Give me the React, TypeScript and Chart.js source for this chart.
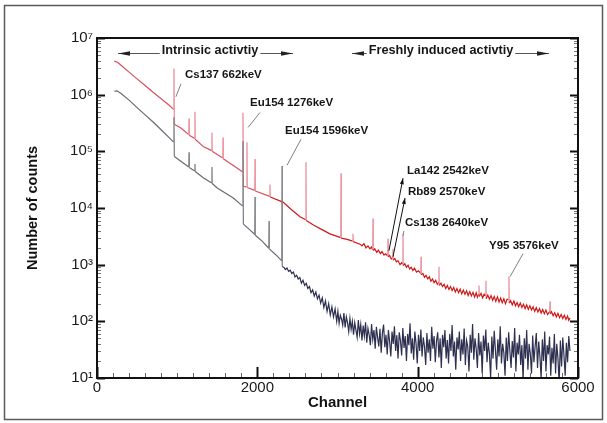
import React, { useEffect, useRef } from "react";
import { Chart, registerables } from "chart.js";

Chart.register(...registerables);

// ---------- data ----------
const xTickValues = [0, 2000, 4000, 6000];
const yDecades = [1, 2, 3, 4, 5, 6, 7];

// "freshly induced" spectrum (red) – low-channel part with peaks
const redChannels = [
  215, 260, 300, 400, 500, 600, 700, 800, 900, 955, 960, 965, 1050, 1145, 1148, 1151, 1219, 1222, 1225, 1330,
  1431, 1434, 1437, 1500, 1569, 1572, 1575, 1700, 1818, 1821, 1826, 1868, 1871, 1874, 1968, 1971, 1974, 2155,
  2158, 2161, 2320, 2420, 2532, 2604, 2607, 2610, 2700, 2800, 2906, 3041, 3044, 3047, 3120, 3190, 3193, 3196,
];
const redCounts = [
  3.9e6, 3.7e6, 3.3e6, 2.5e6, 1.9e6, 1.45e6, 1.1e6, 8.5e5, 6.5e5, 5.5e5, 2.9e6, 3.0e5, 2.55e5, 1.97e5, 3.8e5, 1.93e5, 1.68e5, 5.0e5, 1.63e5, 1.2e5,
  1.03e5, 2.15e5, 1.0e5, 8.8e4, 7.6e4, 1.76e5, 7.4e4, 5.6e4, 4.3e4, 4.8e5, 2.4e4, 2.35e4, 1.44e5, 2.3e4, 2.05e4, 7.3e4, 2.0e4, 1.6e4,
  2.6e4, 1.56e4, 1.27e4, 9.5e3, 7.0e3, 6.2e3, 6.4e4, 6.0e3, 5.0e3, 4.2e3, 3.5e3, 3.0e3, 4.1e4, 2.95e3, 2.8e3, 2.6e3, 3.5e3, 2.55e3,
];
// red – noisy high-channel part
const redTailChannels = [
  3281, 3305, 3330, 3355, 3380, 3405, 3425, 3440, 3443, 3446, 3465, 3490, 3510, 3535, 3555, 3580, 3600, 3627, 3630, 3633,
  3650, 3670, 3689, 3692, 3695, 3715, 3735, 3755, 3780, 3800, 3814, 3817, 3820, 3840, 3860, 3880, 3900, 3920, 3940, 3960,
  3985, 4010, 4039, 4042, 4045, 4065, 4085, 4105, 4125, 4145, 4165, 4185, 4205, 4225, 4245, 4263, 4266, 4269, 4290, 4310,
  4330, 4350, 4370, 4390, 4410, 4430, 4450, 4470, 4490, 4510, 4530, 4550, 4570, 4590, 4610, 4630, 4650, 4670, 4690, 4710,
  4730, 4745, 4762, 4765, 4768, 4790, 4810, 4830, 4849, 4852, 4855, 4875, 4895, 4915, 4935, 4955, 4975, 4995, 5015, 5035,
  5055, 5075, 5095, 5115, 5136, 5139, 5142, 5160, 5180, 5200, 5220, 5240, 5260, 5280, 5300, 5320, 5340, 5360, 5380, 5400,
  5420, 5440, 5460, 5480, 5500, 5520, 5540, 5560, 5580, 5600, 5620, 5648, 5651, 5654, 5670, 5690, 5710, 5730, 5750, 5770,
  5790, 5810, 5830, 5850, 5870, 5885, 5900,
];
const redTailCounts = [
  2300, 2150, 2350, 1980, 2150, 1900, 2050, 1820, 6500, 1780, 1900, 1650, 1800, 1560, 1700, 1480, 1560, 1420, 2860, 1380,
  1450, 1260, 1350, 1900, 1200, 1280, 1120, 1180, 1000, 1080, 1020, 3500, 960, 1040, 900, 980, 840, 900, 790, 870,
  740, 780, 700, 1380, 660, 700, 600, 650, 560, 610, 510, 560, 480, 530, 450, 490, 920, 430, 470, 410,
  450, 380, 430, 365, 410, 350, 395, 330, 380, 320, 370, 305, 355, 300, 345, 285, 335, 280, 325, 270,
  320, 265, 305, 430, 275, 310, 260, 300, 285, 520, 250, 290, 245, 285, 235, 275, 225, 270, 220, 258,
  212, 250, 205, 245, 240, 620, 210, 232, 195, 228, 188, 215, 182, 210, 175, 200, 168, 195, 162, 188,
  158, 180, 150, 174, 146, 168, 140, 162, 136, 158, 132, 150, 225, 135, 148, 125, 142, 120, 138, 116,
  132, 112, 128, 108, 124, 104, 115,
];
const redPeakChannels = [960, 1148, 1222, 1434, 1572, 1821, 1871, 1971, 2158, 2607, 3044, 3193, 3443, 3630, 3692, 3817, 4042, 4266, 4765, 4852, 5139, 5651];

// "intrinsic" spectrum (black) – low-channel part with peaks
const blackChannels = [
  215, 250, 300, 400, 500, 600, 700, 800, 900, 955, 960, 965, 1050, 1145, 1148, 1151, 1219, 1222, 1225, 1330,
  1431, 1434, 1437, 1500, 1700, 1818, 1821, 1826, 1900, 1968, 1971, 1974, 2060, 2143, 2146, 2149, 2230, 2305,
  2308, 2311,
];
const blackCounts = [
  1.15e6, 1.17e6, 1.05e6, 8.0e5, 5.9e5, 4.4e5, 3.3e5, 2.4e5, 1.75e5, 1.45e5, 4.0e5, 8.1e4, 6.6e4, 5.3e4, 9.6e4, 5.2e4, 4.5e4, 6.0e4, 4.4e4, 3.4e4,
  2.75e4, 5.3e4, 2.7e4, 2.25e4, 1.5e4, 1.08e4, 1.5e5, 5.2e3, 4.2e3, 3.4e3, 1.56e4, 3.3e3, 2.6e3, 1.95e3, 5.9e3, 1.9e3, 1.5e3, 1.17e3,
  5.5e4, 920,
];
// black – noisy tail
const blackTailChannels = [
  2330, 2350, 2370, 2390, 2410, 2430, 2450, 2470, 2490, 2510, 2530, 2550, 2570, 2590, 2610, 2630, 2650, 2670, 2690, 2710,
  2730, 2750, 2770, 2790, 2810, 2830, 2850, 2870, 2890, 2910, 2930, 2950, 2970, 2990,
  3005, 3020, 3035, 3050, 3065, 3080, 3095, 3110, 3125, 3140, 3155, 3170, 3185, 3200, 3215, 3230, 3245, 3260, 3275, 3290,
  3305, 3320, 3335, 3350, 3365, 3380, 3395, 3410, 3425, 3440, 3455, 3470, 3485, 3500, 3515, 3530, 3545, 3560, 3575, 3590,
  3605, 3620, 3635, 3650, 3665, 3680, 3695, 3710, 3725, 3740, 3755, 3770, 3785, 3800, 3815, 3830, 3845, 3860, 3875, 3890,
  3905, 3920, 3935, 3950, 3965, 3980, 3995, 4010, 4025, 4040, 4055, 4070, 4085, 4100, 4115, 4130, 4145, 4160, 4175, 4190,
  4205, 4220, 4235, 4250, 4265, 4280, 4295, 4310, 4325, 4340, 4355, 4370, 4385, 4400, 4415, 4430, 4445, 4460, 4475, 4490,
  4505, 4520, 4535, 4550, 4565, 4580, 4595, 4610, 4625, 4640, 4655, 4670, 4685, 4700, 4715, 4730, 4745, 4760, 4775, 4790,
  4805, 4820, 4835, 4850, 4865, 4880, 4895, 4910, 4925, 4940, 4955, 4970, 4985, 5000, 5015, 5030, 5045, 5060, 5075, 5090,
  5105, 5120, 5135, 5150, 5165, 5180, 5195, 5210, 5225, 5240, 5255, 5270, 5285, 5300, 5315, 5330, 5345, 5360, 5375, 5390,
  5405, 5420, 5435, 5450, 5465, 5480, 5495, 5510, 5525, 5540, 5555, 5570, 5585, 5600, 5615, 5630, 5645, 5660, 5675, 5690,
  5705, 5720, 5735, 5750, 5765, 5780, 5795, 5810, 5825, 5840, 5855, 5870, 5885, 5900,
];
const blackTailCounts = [
  900, 820, 870, 760, 800, 700, 740, 610, 650, 560, 590, 470, 530, 430, 470, 380, 410, 320, 360, 280,
  330, 250, 290, 210, 260, 175, 230, 150, 205, 130, 180, 120, 165, 100,
  150, 92, 128, 110, 85, 140, 78, 120, 95, 66, 112, 72, 100, 58, 95, 70, 52, 105, 60, 88,
  46, 84, 55, 96, 42, 75, 58, 38, 90, 48, 70, 33, 80, 52, 36, 74, 28, 62, 88, 35,
  58, 26, 70, 44, 24, 66, 40, 82, 30, 57, 22, 64, 46, 25, 76, 34, 55, 20, 60, 38,
  92, 27, 50, 21, 66, 40, 18, 58, 30, 72, 24, 52, 36, 17, 62, 28, 48, 20, 80, 33,
  55, 19, 45, 64, 23, 50, 15, 58, 35, 70, 22, 47, 18, 60, 30, 86, 24, 44, 14, 52,
  32, 66, 20, 48, 26, 75, 17, 46, 36, 13, 58, 28, 90, 21, 50, 33, 15, 62, 25, 44,
  12, 56, 30, 72, 19, 42, 27, 10, 54, 22, 68, 31, 14, 48, 24, 82, 18, 40, 28, 11,
  52, 20, 64, 30, 15, 45, 23, 76, 13, 42, 26, 58, 17, 38, 9, 50, 22, 70, 14, 40,
  27, 12, 56, 19, 36, 62, 15, 44, 24, 10, 48, 20, 66, 13, 38, 26, 54, 11, 34, 18,
  60, 12, 40, 22, 8, 46, 16, 52, 25, 11, 42, 19, 55, 30,
];
const blackPeakChannels = [960, 1148, 1222, 1434, 1821, 1971, 2146, 2308];

// annotation texts with anchor (channel, count)
const peakLabels = ["Cs137 662keV", "Eu154 1276keV", "Eu154 1596keV", "La142 2542keV", "Rb89 2570keV", "Cs138 2640keV", "Y95 3576keV"];
const peakLabelChannels = [1098, 1909, 2345, 3867, 3879, 3842, 4890];
const peakLabelCounts = [2.24e6, 7.2e5, 2.33e5, 4.46e4, 1.91e4, 5.46e3, 2150];
// pointer lines: [channel1, count1, channel2, count2]
const pointerLines = [
  [1048, 1.56e6, 985, 9.2e5],
  [2033, 4.83e5, 1884, 2.64e5],
  [2545, 1.63e5, 2370, 5.68e4],
  [3829, 3950, 3817, 3230],
  [5314, 1560, 5152, 615],
];
const arrowLines = [
  [3642, 1762, 3817, 3.36e4],
  [3692, 1380, 3842, 1.5e4],
];
const regionLabels = ["Intrinsic activtiy", "Freshly induced activtiy"];
const regionCenters = [1410, 4291];
const regionStarts = [262, 3181];
const regionEnds = [2445, 5638];
const regionCount = 5.46e6;

const FONT = '"Liberation Sans", Arial, Helvetica, sans-serif';
const SUP = ["⁰", "¹", "²", "³", "⁴", "⁵", "⁶", "⁷", "⁸", "⁹"];
const minorStep = 200;

const redPeakSet = new Set(redPeakChannels);
const blackPeakSet = new Set(blackPeakChannels);

function arrowHead(ctx: CanvasRenderingContext2D, x1: number, y1: number, x2: number, y2: number, len: number, half: number) {
  const ang = Math.atan2(y2 - y1, x2 - x1);
  ctx.beginPath();
  ctx.moveTo(x2, y2);
  ctx.lineTo(x2 - len * Math.cos(ang) + half * Math.sin(ang), y2 - len * Math.sin(ang) - half * Math.cos(ang));
  ctx.lineTo(x2 - len * Math.cos(ang) - half * Math.sin(ang), y2 - len * Math.sin(ang) + half * Math.cos(ang));
  ctx.closePath();
  ctx.fill();
}

const extrasPlugin = {
  id: "extras",
  beforeDraw(chart: any) {
    const { ctx, width, height } = chart;
    ctx.save();
    ctx.fillStyle = "#ffffff";
    ctx.fillRect(0, 0, width, height);
    ctx.strokeStyle = "#5a5a5a";
    ctx.lineWidth = 1.5;
    ctx.strokeRect(4.5, 5.5, 598, 414);
    ctx.restore();
  },
  afterDatasetsDraw(chart: any) {
    const { ctx, chartArea: a, scales } = chart;
    const xs = scales.x;
    const ys = scales.y;
    ctx.save();
    for (const d of yDecades) {
      for (let m = 1; m <= 9; m++) {
        const v = m * Math.pow(10, d);
        if (v > 1e7 + 1) break;
        const py = Math.round(ys.getPixelForValue(v)) + 0.5;
        const major = m === 1;
        const len = major ? 8 : 4;
        ctx.strokeStyle = major ? "#111" : "#777";
        ctx.lineWidth = major ? 2 : 1;
        ctx.beginPath();
        ctx.moveTo(a.left, py);
        ctx.lineTo(a.left + len, py);
        ctx.moveTo(a.right, py);
        ctx.lineTo(a.right - len, py);
        ctx.stroke();
      }
    }
    for (let c = 0; c <= 6000; c += minorStep) {
      const major = xTickValues.includes(c);
      const px = Math.round(xs.getPixelForValue(c)) + 0.5;
      ctx.strokeStyle = major ? "#111" : "#666";
      ctx.lineWidth = major ? 2 : 1;
      ctx.beginPath();
      ctx.moveTo(px, a.bottom);
      ctx.lineTo(px, a.bottom - (major ? 11 : 5));
      ctx.stroke();
    }
    ctx.strokeStyle = "#111";
    ctx.lineWidth = 2;
    ctx.strokeRect(a.left, a.top, a.right - a.left, a.bottom - a.top);

    ctx.strokeStyle = "#808080";
    ctx.lineWidth = 1;
    for (const p of pointerLines) {
      ctx.beginPath();
      ctx.moveTo(xs.getPixelForValue(p[0]), ys.getPixelForValue(p[1]));
      ctx.lineTo(xs.getPixelForValue(p[2]), ys.getPixelForValue(p[3]));
      ctx.stroke();
    }
    ctx.strokeStyle = "#111";
    ctx.fillStyle = "#111";
    for (const p of arrowLines) {
      const x1 = xs.getPixelForValue(p[0]);
      const y1 = ys.getPixelForValue(p[1]);
      const x2 = xs.getPixelForValue(p[2]);
      const y2 = ys.getPixelForValue(p[3]);
      ctx.beginPath();
      ctx.moveTo(x1, y1);
      ctx.lineTo(x2, y2);
      ctx.stroke();
      arrowHead(ctx, x1, y1, x2, y2, 6, 2);
    }
    ctx.fillStyle = "#161616";
    ctx.font = `bold 11.5px ${FONT}`;
    ctx.textAlign = "left";
    ctx.textBaseline = "middle";
    peakLabels.forEach((t, i) => {
      ctx.fillText(t, xs.getPixelForValue(peakLabelChannels[i]), ys.getPixelForValue(peakLabelCounts[i]));
    });
    ctx.font = `bold 12.7px ${FONT}`;
    ctx.textAlign = "center";
    ctx.textBaseline = "alphabetic";
    const ry = Math.round(ys.getPixelForValue(regionCount)) + 0.5;
    regionLabels.forEach((t, i) => {
      const cx = xs.getPixelForValue(regionCenters[i]);
      const w = ctx.measureText(t).width;
      const x0 = xs.getPixelForValue(regionStarts[i]);
      const x1 = xs.getPixelForValue(regionEnds[i]);
      ctx.fillStyle = "#161616";
      ctx.fillText(t, cx, ry);
      ctx.strokeStyle = "#555";
      ctx.lineWidth = 1;
      ctx.beginPath();
      ctx.moveTo(x0, ry);
      ctx.lineTo(cx - w / 2 - 2, ry);
      ctx.moveTo(cx + w / 2 + 2, ry);
      ctx.lineTo(x1, ry);
      ctx.stroke();
      ctx.fillStyle = "#222";
      arrowHead(ctx, x0 + 12, ry, x0, ry, 12, 2.2);
      arrowHead(ctx, x1 - 12, ry, x1, ry, 12, 2.2);
    });
    ctx.restore();
  },
};

export default function App() {
  const canvasRef = useRef<HTMLCanvasElement | null>(null);

  useEffect(() => {
    const canvas = canvasRef.current;
    if (!canvas) return;
    const redAllCh = redChannels.concat(redTailChannels);
    const redAllCt = redCounts.concat(redTailCounts);
    const blackAllCh = blackChannels.concat(blackTailChannels);
    const blackAllCt = blackCounts.concat(blackTailCounts);
    const redData = redAllCh.map((c, i) => ({ x: c, y: redAllCt[i] }));
    const blackData = blackAllCh.map((c, i) => ({ x: c, y: blackAllCt[i] }));
    const tickFont = { family: FONT, size: 15 };

    const chart = new Chart(canvas, {
      type: "line",
      data: {
        datasets: [
          {
            label: "Intrinsic",
            data: blackData,
            borderWidth: 1.2,
            pointRadius: 0,
            borderColor: "#2e3050",
            segment: {
              borderColor: (c: any) => {
                const x0 = c.p0.parsed.x;
                const x1 = c.p1.parsed.x;
                if (blackPeakSet.has(x0) || blackPeakSet.has(x1)) return "#7a7a80";
                return x1 <= 2320 ? "#6a6a70" : "#2e3050";
              },
            },
          },
          {
            label: "Freshly induced",
            data: redData,
            borderWidth: 1.2,
            pointRadius: 0,
            borderColor: "#cc1a1a",
            segment: {
              borderColor: (c: any) => {
                const x0 = c.p0.parsed.x;
                const x1 = c.p1.parsed.x;
                if (redPeakSet.has(x0) || redPeakSet.has(x1)) return "#e98a95";
                return x1 <= 2300 ? "#d9505e" : "#cc1a1a";
              },
            },
          },
        ],
      },
      options: {
        animation: false,
        responsive: false,
        devicePixelRatio: 1,
        layout: { padding: { left: 0, top: 38, right: 29, bottom: 0 } },
        plugins: { legend: { display: false }, tooltip: { enabled: false } },
        elements: { line: { tension: 0 }, point: { radius: 0 } },
        scales: {
          x: {
            type: "linear",
            min: 0,
            max: 6000,
            grid: { display: false, drawTicks: false },
            border: { display: false },
            ticks: {
              stepSize: 2000,
              padding: 1,
              autoSkip: false,
              maxRotation: 0,
              color: "#1a1a1a",
              font: tickFont,
              callback: (v: any) => String(v),
            },
            title: {
              display: true,
              text: "Channel",
              color: "#111",
              font: { family: FONT, size: 15, weight: "bold" },
              padding: { top: 0, bottom: 11 },
            },
            afterFit: (s: any) => {
              s.height = 45;
            },
          },
          y: {
            type: "logarithmic",
            min: 10,
            max: 1e7,
            grid: { display: false, drawTicks: false },
            border: { display: false },
            afterBuildTicks: (s: any) => {
              s.ticks = yDecades.map((d) => ({ value: Math.pow(10, d) }));
            },
            ticks: {
              padding: 4,
              autoSkip: false,
              color: "#1a1a1a",
              font: tickFont,
              callback: (v: any) => "10" + SUP[Math.round(Math.log10(Number(v)))],
            },
            title: {
              display: true,
              text: "Number of counts",
              color: "#111",
              font: { family: FONT, size: 14.5, weight: "bold" },
              padding: { top: 24, bottom: 0 },
            },
            afterFit: (s: any) => {
              s.width = 97;
            },
          },
        },
      },
      plugins: [extrasPlugin],
    } as any);

    return () => chart.destroy();
  }, []);

  return (
    <div style={{ position: "fixed", left: 0, top: 0, width: 607, height: 423, background: "#fff" }}>
      <canvas ref={canvasRef} width={607} height={423} style={{ display: "block", width: 607, height: 423 }} />
    </div>
  );
}
